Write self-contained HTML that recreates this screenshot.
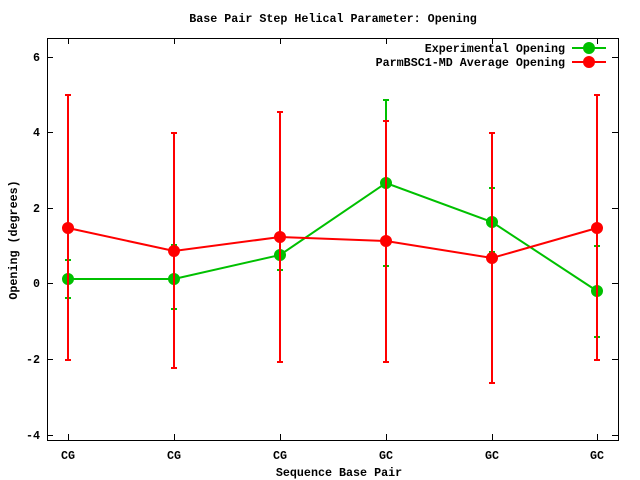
<!DOCTYPE html>
<html><head><meta charset="utf-8"><style>html,body{margin:0;padding:0;background:#fff}svg{display:block}text{font-family:"Liberation Mono",monospace;font-weight:bold;font-size:11.7px;fill:#000}</style></head>
<body>
<svg width="640" height="480" xmlns="http://www.w3.org/2000/svg">
<text x="333" y="22" text-anchor="middle">Base Pair Step Helical Parameter: Opening</text>
<rect x="47.5" y="38.5" width="571" height="402" fill="none" stroke="#000" stroke-width="1"/>
<g stroke="#000" stroke-width="1">
<line x1="47" y1="57.5" x2="53" y2="57.5"/><line x1="612" y1="57.5" x2="618" y2="57.5"/>
<line x1="47" y1="132.5" x2="53" y2="132.5"/><line x1="612" y1="132.5" x2="618" y2="132.5"/>
<line x1="47" y1="208.5" x2="53" y2="208.5"/><line x1="612" y1="208.5" x2="618" y2="208.5"/>
<line x1="47" y1="283.5" x2="53" y2="283.5"/><line x1="612" y1="283.5" x2="618" y2="283.5"/>
<line x1="47" y1="359.5" x2="53" y2="359.5"/><line x1="612" y1="359.5" x2="618" y2="359.5"/>
<line x1="47" y1="435.5" x2="53" y2="435.5"/><line x1="612" y1="435.5" x2="618" y2="435.5"/>
<line x1="68.5" y1="440" x2="68.5" y2="434"/><line x1="68.5" y1="38" x2="68.5" y2="44"/>
<line x1="174.5" y1="440" x2="174.5" y2="434"/><line x1="174.5" y1="38" x2="174.5" y2="44"/>
<line x1="280.5" y1="440" x2="280.5" y2="434"/><line x1="280.5" y1="38" x2="280.5" y2="44"/>
<line x1="386.5" y1="440" x2="386.5" y2="434"/><line x1="386.5" y1="38" x2="386.5" y2="44"/>
<line x1="492.5" y1="440" x2="492.5" y2="434"/><line x1="492.5" y1="38" x2="492.5" y2="44"/>
<line x1="597.5" y1="440" x2="597.5" y2="434"/><line x1="597.5" y1="38" x2="597.5" y2="44"/>
</g>
<g text-anchor="end">
<text x="40" y="61">6</text><text x="40" y="136">4</text><text x="40" y="212">2</text>
<text x="40" y="287">0</text><text x="40" y="363">-2</text><text x="40" y="439">-4</text>
</g>
<g text-anchor="middle">
<text x="68" y="459">CG</text><text x="174" y="459">CG</text><text x="280" y="459">CG</text>
<text x="386" y="459">GC</text><text x="492" y="459">GC</text><text x="597" y="459">GC</text>
<text x="339" y="476">Sequence Base Pair</text>
<text transform="translate(17,240) rotate(-90)">Opening (degrees)</text>
</g>
<g stroke="#00c000" stroke-width="2" fill="#00c000">
<path d="M68 260V298M65 260H71M65 298H71 M174 245V309M171 309H177M171 245H177 M280 240V270M277 270H283M277 240H283 M386 100V266M383 100H389M383 266H389 M492 188V252M489 188H495M489 252H495 M597 246V337M594 246H600M594 337H600" fill="none"/>
<polyline points="68,279 174,279 280,255 386,183 492,222 597,291" fill="none"/>
<circle cx="68" cy="279" r="5"/><circle cx="174" cy="279" r="5"/><circle cx="280" cy="255" r="5"/><circle cx="386" cy="183" r="5"/><circle cx="492" cy="222" r="5"/><circle cx="597" cy="291" r="5"/>
<line x1="572" y1="48" x2="606" y2="48"/><circle cx="589" cy="48" r="5"/>
</g>
<g stroke="#ff0000" stroke-width="2" fill="#ff0000">
<path d="M68 95V360M65 95H71M65 360H71 M174 133V368M171 133H177M171 368H177 M280 112V362M277 112H283M277 362H283 M386 121V362M383 121H389M383 362H389 M492 133V383M489 133H495M489 383H495 M597 95V360M594 95H600M594 360H600" fill="none"/>
<polyline points="68,228 174,251 280,237 386,241 492,258 597,228" fill="none"/>
<circle cx="68" cy="228" r="5"/><circle cx="174" cy="251" r="5"/><circle cx="280" cy="237" r="5"/><circle cx="386" cy="241" r="5"/><circle cx="492" cy="258" r="5"/><circle cx="597" cy="228" r="5"/>
<line x1="572" y1="62" x2="606" y2="62"/><circle cx="589" cy="62" r="5"/>
</g>
<g text-anchor="end">
<text x="565" y="52">Experimental Opening</text>
<text x="565" y="66">ParmBSC1-MD Average Opening</text>
</g>
</svg>
</body></html>
